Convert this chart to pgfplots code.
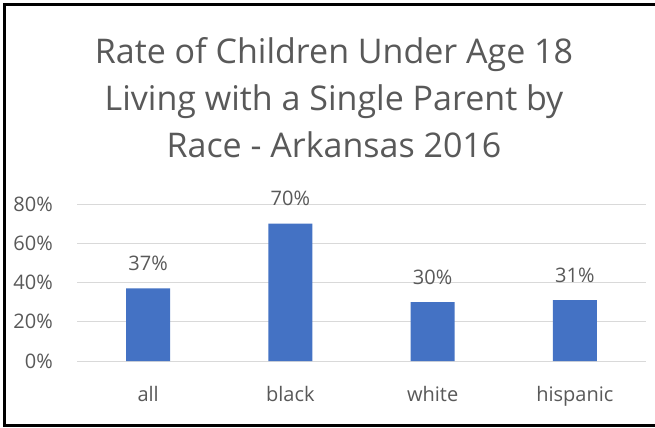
\documentclass[border=0pt]{standalone}
\usepackage{pgfplots}
\pgfplotsset{compat=1.18}
\usepackage{fontspec}
\setmainfont{Open Sans}
\definecolor{txt}{HTML}{595959}
\definecolor{barc}{HTML}{4472C4}
\definecolor{gridc}{HTML}{D9D9D9}
\begin{document}
\begin{tikzpicture}[x=1bp,y=1bp]
\path[use as bounding box] (0,0) rectangle (655,427);
\fill[white] (0,0) rectangle (655,427);
\draw[line width=3bp] (655,422.5) -- (4,422.5) -- (4,2) -- (655,2);
\node[anchor=base, text=txt, font=\fontsize{34bp}{47bp}\selectfont] at (334,364) {Rate of Children Under Age 18};
\node[anchor=base, text=txt, font=\fontsize{34bp}{47bp}\selectfont] at (334,317) {Living with a Single Parent by};
\node[anchor=base, text=txt, font=\fontsize{34bp}{47bp}\selectfont] at (334,270) {Race - Arkansas 2016};
\begin{axis}[
  at={(77bp,66bp)}, anchor=south west,
  scale only axis, width=569bp, height=157bp,
  xmin=-0.5, xmax=3.5, ymin=0, ymax=80,
  ybar, bar width=44bp,
  /pgf/number format/assume math mode=true,
  xtick={0,1,2,3}, xticklabels={all,black,white,hispanic},
  ytick={0,20,40,60,80},
  yticklabel={\pgfmathprintnumber{\tick}\%},
  axis line style={draw=none},
  major tick length=0pt,
  ymajorgrids, grid style={gridc, line width=1bp},
  tick label style={font=\fontsize{20bp}{24bp}\selectfont, text=txt},
  xticklabel style={anchor=base, inner sep=0pt, yshift=-40bp},
  yticklabel style={anchor=east, inner sep=0pt, xshift=-24bp},
  nodes near coords={\pgfmathprintnumber{\pgfplotspointmeta}\%},
  nodes near coords style={font=\fontsize{20bp}{24bp}\selectfont, text=txt, anchor=base, inner sep=0pt, yshift=18bp},
  clip=false,
]
\addplot[fill=barc, draw=none] coordinates {(0,37) (1,70) (2,30) (3,31)};
\end{axis}
\end{tikzpicture}
\end{document}
